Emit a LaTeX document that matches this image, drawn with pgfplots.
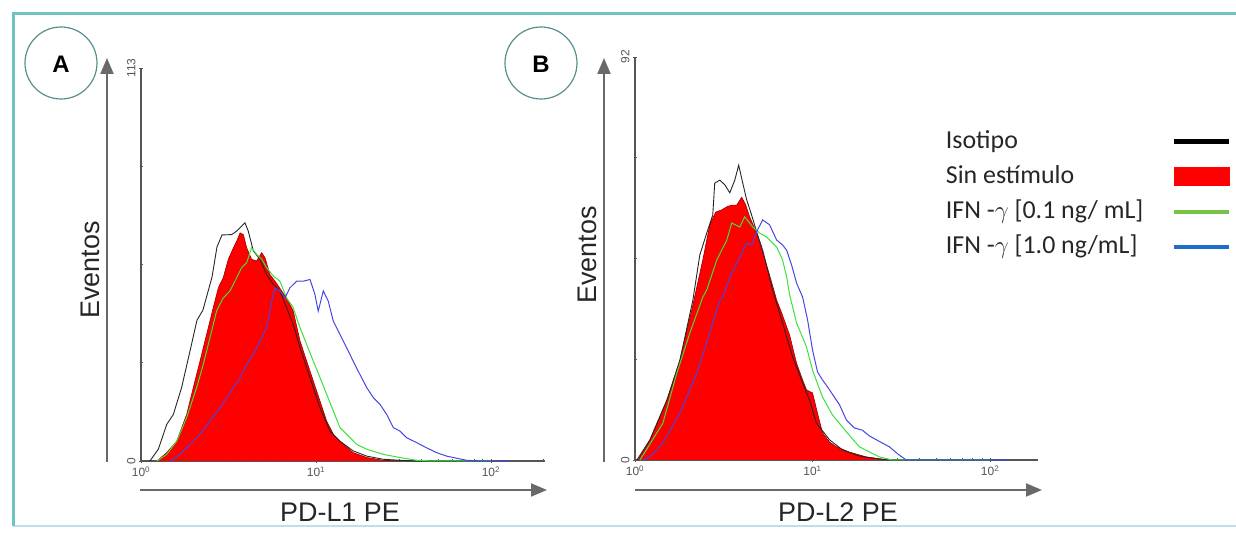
\documentclass[border=0pt]{standalone}
\usepackage{pgfplots}
\pgfplotsset{compat=1.18}
\usepackage{fontspec}
\setmainfont{Liberation Sans}
\newfontfamily\calibri{Carlito}
\usetikzlibrary{arrows.meta}

\definecolor{frameteal}{RGB}{110,195,195}
\definecolor{framelight}{RGB}{190,222,232}
\definecolor{axgray}{RGB}{85,85,85}
\definecolor{arrowgray}{RGB}{105,105,105}
\definecolor{histred}{RGB}{255,0,0}
\definecolor{edgered}{RGB}{150,0,0}
\definecolor{histgreen}{RGB}{60,225,60}
\definecolor{histblue}{RGB}{70,70,230}
\definecolor{leggreen}{RGB}{120,195,70}
\definecolor{legblue}{RGB}{30,110,200}
\definecolor{circgray}{RGB}{90,140,140}

% x is log10 of the PE intensity, y is the count of events
\pgfplotsset{
  facs/.style={
    scale only axis,
    axis lines=left,
    axis line style={-, draw=axgray, line width=1.2bp},
    xmin=0, ymin=0,
    xtick={0,1,2},
    xticklabels={10\textsuperscript{0},10\textsuperscript{1},10\textsuperscript{2}},
    minor xtick={0.301,0.477,0.602,0.699,0.778,0.845,0.903,0.954,
                 1.301,1.477,1.602,1.699,1.778,1.845,1.903,1.954,2.301},
    tick style={draw=axgray, line width=0.8bp},
    major tick length=4bp, minor tick length=3bp,
    /pgf/number format/assume math mode=true,
    tick label style={font=\fontsize{12}{13}\selectfont, text=axgray},
    yticklabel style={rotate=90, anchor=south},
    clip=false,
  },
  isotipo/.style={draw=black!85, line width=0.9bp},
  sinest/.style={fill=histred, draw=edgered, line width=0.6bp},
  ifnlow/.style={draw=histgreen, line width=1.0bp},
  ifnhigh/.style={draw=histblue, line width=1.0bp},
}

\begin{document}
\begin{tikzpicture}
\path[use as bounding box] (0,0) rectangle (1236bp,534bp);

% panel A
\begin{axis}[facs,
  at={(141bp,73bp)}, anchor=south west,
  width=404bp, height=393bp,
  xmax=2.309, ymax=113,
  ytick={0,113},
  minor ytick={28.25,56.5,84.75},
]
\addplot[sinest] coordinates {
 (0.090,0) (0.147,2.4) (0.204,5.7) (0.261,13.4) (0.299,21.1) (0.337,28.7)
 (0.375,36.4) (0.413,44.1) (0.442,49.8) (0.470,52.7) (0.499,58.0) (0.528,61.3)
 (0.547,63.2) (0.566,65.6) (0.585,65.1) (0.604,61.3) (0.632,58.0) (0.661,57.5)
 (0.690,59.9) (0.709,58.4) (0.737,53.6) (0.766,51.7) (0.804,48.9) (0.842,46.0)
 (0.870,43.1) (0.909,34.5) (0.947,28.7) (0.985,23.0) (1.023,17.2) (1.061,11.5)
 (1.099,7.7) (1.156,4.8) (1.213,2.4) (1.290,1.0) (1.385,0.2) (1.480,0)
};
\addplot[isotipo] coordinates {
 (0.051,0) (0.099,3.4) (0.147,10.5) (0.185,13.4) (0.232,21.1) (0.280,31.6)
 (0.320,40.5) (0.354,43.4) (0.406,52.9) (0.434,61.5) (0.463,65.0) (0.518,65.1)
 (0.547,66.1) (0.575,67.5) (0.594,68.5) (0.613,66.1) (0.642,60.4) (0.680,58.0)
 (0.718,53.6) (0.756,50.8) (0.794,48.9) (0.832,44.1) (0.870,39.3) (0.909,32.6)
 (0.947,26.8) (0.985,21.1) (1.023,15.3) (1.080,8.6) (1.137,5.7) (1.213,2.9)
 (1.290,1.4) (1.385,0.5) (1.480,0.2) (1.575,0) (2.000,0)
};
\addplot[ifnlow] coordinates {
 (0.090,0) (0.147,1.9) (0.204,5.7) (0.261,12.5) (0.318,21.1) (0.356,27.8)
 (0.394,35.4) (0.432,43.1) (0.470,46.9) (0.509,48.9) (0.547,52.7) (0.575,55.6)
 (0.604,57.0) (0.632,61.3) (0.661,59.4) (0.690,58.0) (0.718,55.6) (0.756,53.2)
 (0.794,51.7) (0.832,46.9) (0.870,44.1) (0.909,38.3) (0.947,33.5) (0.985,28.7)
 (1.023,24.0) (1.061,19.2) (1.099,14.4) (1.137,9.6) (1.175,7.7) (1.232,4.8)
 (1.290,3.4) (1.385,1.9) (1.480,1.0) (1.575,0.2) (1.670,0) (2.000,0)
};
\addplot[ifnhigh] coordinates {
 (0.166,0) (0.223,1.9) (0.280,4.8) (0.337,7.7) (0.394,11.5) (0.451,15.3)
 (0.490,18.2) (0.528,21.1) (0.566,24.0) (0.604,27.8) (0.642,30.7) (0.680,34.5)
 (0.718,38.3) (0.747,46.0) (0.766,49.8) (0.794,48.9) (0.823,46.9) (0.851,49.8)
 (0.890,51.7) (0.928,51.7) (0.966,52.2) (0.994,47.9) (1.013,43.1) (1.042,48.9)
 (1.070,46.0) (1.099,40.2) (1.137,36.4) (1.175,32.6) (1.213,28.7) (1.251,24.9)
 (1.290,21.1) (1.328,18.2) (1.366,16.3) (1.404,13.4) (1.442,9.6) (1.480,8.6)
 (1.518,6.7) (1.575,5.3) (1.632,3.8) (1.690,2.4) (1.747,1.4) (1.804,0.8)
 (1.861,0.2) (1.956,0) (2.100,0)
};
\end{axis}

% panel B
\begin{axis}[facs,
  at={(635bp,74bp)}, anchor=south west,
  width=403bp, height=403bp,
  xmax=2.27, ymax=92,
  ytick={0,92},
  minor ytick={23,46,69},
  legend cell align=left,
  legend plot pos=right,
  legend style={at={(0.771,0.819)}, anchor=north west, draw=none, fill=none,
    inner sep=0pt, row sep=12bp, text=black!85,
    font=\calibri\fontsize{26}{28}\selectfont,
    nodes={inner sep=0pt, text height=18bp, text depth=5bp},
    /tikz/every odd column/.append style={column sep=28bp}},
]
\addplot[sinest, forget plot] coordinates {
 (0.017,0) (0.084,4.6) (0.180,13.7) (0.253,22.8) (0.326,35.4) (0.382,45.7)
 (0.421,53.7) (0.455,56.6) (0.489,57.1) (0.517,57.8) (0.545,58.2) (0.573,58.2)
 (0.601,60.0) (0.624,58.2) (0.646,55.5) (0.685,51.8) (0.719,47.5) (0.758,42.2)
 (0.798,36.5) (0.826,33.6) (0.871,28.5) (0.910,22.1) (0.944,18.3) (0.966,16.0)
 (1.000,15.3) (1.028,10.7) (1.056,6.2) (1.096,4.1) (1.135,3.0) (1.208,1.8)
 (1.303,0.7) (1.393,0.2) (1.461,0)
};
\addplot[isotipo, forget plot] coordinates {
 (0.011,0) (0.084,4.6) (0.180,13.7) (0.253,22.8) (0.326,36.5) (0.365,46.8)
 (0.404,51.8) (0.438,55.9) (0.449,63.2) (0.478,63.9) (0.506,62.8) (0.534,61.0)
 (0.562,63.9) (0.584,67.3) (0.607,63.2) (0.629,59.4) (0.657,55.9) (0.685,52.1)
 (0.719,47.9) (0.747,43.4) (0.775,38.8) (0.831,31.3) (0.888,23.5) (0.944,17.6)
 (0.983,13.7) (1.022,8.4) (1.096,4.6) (1.169,2.3) (1.264,0.9) (1.376,0.2)
 (1.489,0) (2.000,0)
};
\addplot[ifnlow, forget plot] coordinates {
 (0.028,0) (0.157,8.4) (0.236,19.9) (0.309,29.0) (0.382,37.2) (0.404,38.8)
 (0.461,45.7) (0.517,50.2) (0.545,54.1) (0.590,53.2) (0.618,55.5) (0.663,53.2)
 (0.702,51.8) (0.742,50.9) (0.798,48.6) (0.831,45.7) (0.854,41.8) (0.871,37.7)
 (0.910,31.3) (0.966,25.8) (1.000,20.5) (1.056,14.4) (1.112,10.3) (1.191,6.4)
 (1.264,3.0) (1.376,0.7) (1.449,0) (2.000,0)
};
\addplot[ifnhigh, forget plot] coordinates {
 (0.045,0) (0.084,0.7) (0.157,3.9) (0.253,10.7) (0.348,19.9) (0.421,29.0)
 (0.478,36.5) (0.494,37.2) (0.534,41.8) (0.590,46.3) (0.629,49.5) (0.657,49.1)
 (0.685,52.1) (0.719,54.8) (0.758,53.7) (0.798,50.2) (0.831,49.1) (0.854,47.9)
 (0.882,44.5) (0.910,40.4) (0.944,37.2) (0.972,32.0) (1.000,25.1) (1.028,20.1)
 (1.056,18.3) (1.096,16.0) (1.152,12.6) (1.191,9.1) (1.236,7.3) (1.281,6.8)
 (1.320,5.5) (1.360,4.6) (1.433,3.0) (1.489,1.1) (1.528,0) (2.100,0)
};
\addlegendimage{legend image code/.code={\draw[black, line width=5bp] (0,0) -- (55bp,0);}}
\addlegendentry{Isotipo}
\addlegendimage{legend image code/.code={\fill[histred] (0,-9bp) rectangle (55bp,9bp);}}
\addlegendentry{Sin estímulo}
\addlegendimage{legend image code/.code={\draw[leggreen, line width=4bp] (0,0) -- (55bp,0);}}
\addlegendentry{IFN -$\gamma$ [0.1 ng/ mL]}
\addlegendimage{legend image code/.code={\draw[legblue, line width=4bp] (0,0) -- (55bp,0);}}
\addlegendentry{IFN -$\gamma$ [1.0 ng/mL]}
\end{axis}

% frame, panel letters, outer arrows and their labels (pixel positions)
\begin{scope}[x=1bp, y=-1bp, yshift=534bp]
\draw[framelight, line width=2bp] (13,526) -- (1236,526);
\draw[frameteal, line width=3bp] (1236,14) -- (13,14) -- (13,526);
\draw[circgray, line width=1.2bp] (61,63) circle[radius=36];
\draw[circgray, line width=1.2bp] (541,63) circle[radius=36];
\node[font=\bfseries\fontsize{24}{24}\selectfont] at (61,64) {A};
\node[font=\bfseries\fontsize{24}{24}\selectfont] at (541,64) {B};
\draw[arrowgray, line width=2bp, -{Triangle[length=16bp, width=13bp]}] (107,462) -- (107,58);
\draw[arrowgray, line width=2bp, -{Triangle[length=16bp, width=13bp]}] (140,490) -- (547,490);
\draw[arrowgray, line width=2bp, -{Triangle[length=16bp, width=13bp]}] (604,462) -- (604,58);
\draw[arrowgray, line width=2bp, -{Triangle[length=16bp, width=13bp]}] (635,490) -- (1042,490);
\node[rotate=90, font=\fontsize{27}{30}\selectfont, text=black!85] at (90,270) {Eventos};
\node[rotate=90, font=\fontsize{27}{30}\selectfont, text=black!85] at (587,255) {Eventos};
\node[font=\fontsize{27}{30}\selectfont, text=black!85] at (340,512) {PD-L1 PE};
\node[font=\fontsize{27}{30}\selectfont, text=black!85] at (838,512) {PD-L2 PE};
\end{scope}
\end{tikzpicture}
\end{document}
